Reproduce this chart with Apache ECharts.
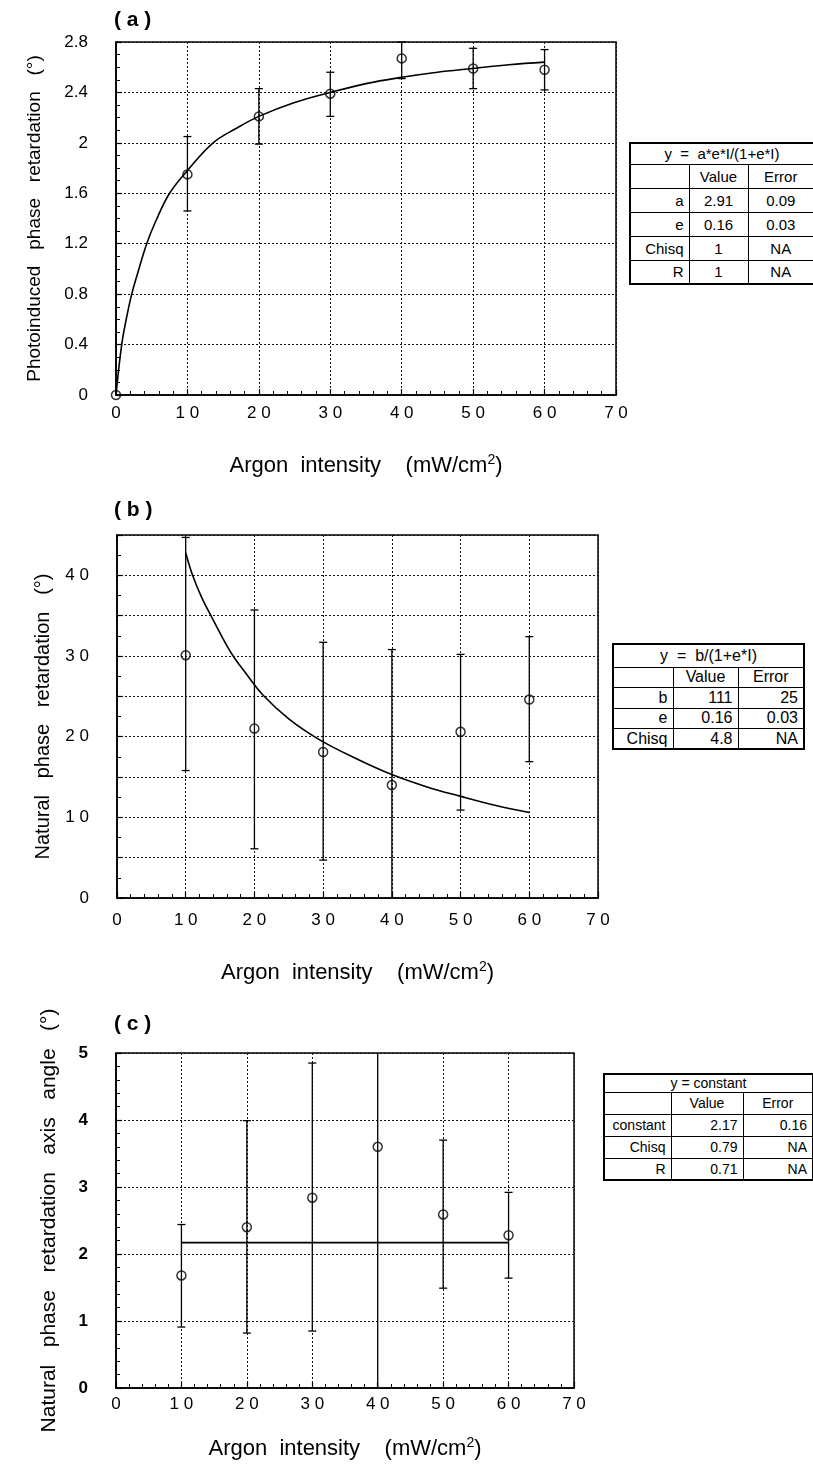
<!DOCTYPE html>
<html>
<head>
<meta charset="utf-8">
<script src="https://cdn.jsdelivr.net/npm/echarts@6/dist/echarts.min.js"></script>
<style>
  html, body { margin: 0; padding: 0; background: #fff; }
  #wrap { position: relative; width: 813px; height: 1465px; }
  #chart { position: absolute; left: 0; top: 0; width: 813px; height: 1465px; }
  table.fit {
    position: absolute; border-collapse: collapse; table-layout: fixed;
    border: 2.5px solid #000; font-family: "Liberation Sans", Arial, sans-serif;
    color: #000; background: #fff;
  }
  table.fit td { border: 1px solid #000; padding: 0 5px; white-space: pre; overflow: hidden; line-height: 1; }
  table.fit td.lab { text-align: right; }
  table.fit td.head { text-align: center; }
</style>
</head>
<body>
<div id="wrap">
  <div id="chart"></div>
</div>
<script>
// (a) photoinduced phase retardation
var aX = [0, 10, 20, 30, 40, 50, 60];
var aY = [0, 1.75, 2.21, 2.39, 2.67, 2.59, 2.58];
var aLo = [null, 1.46, 1.99, 2.21, 2.51, 2.43, 2.42];
var aHi = [null, 2.05, 2.43, 2.56, 2.80, 2.75, 2.74];
var aFitX = [0, 0.8, 1.5, 2.2, 3, 4.3, 5.5, 7.5, 10, 13.6, 17, 20, 25, 30, 35, 40, 45, 50, 55, 60];
var aFitY = [0, 0.4, 0.62, 0.8, 0.96, 1.2, 1.37, 1.6, 1.78, 2.0, 2.12, 2.21, 2.32, 2.4, 2.47, 2.52, 2.56, 2.59, 2.62, 2.64];

// (b) natural phase retardation
var bX = [10, 20, 30, 40, 50, 60];
var bY = [30.1, 21.0, 18.1, 14.0, 20.6, 24.6];
var bLo = [15.8, 6.1, 4.7, -2.0, 10.9, 16.9];
var bHi = [44.7, 35.7, 31.7, 30.8, 30.2, 32.4];
var bFitX = [10, 11, 12.3, 13.8, 16.6, 18.8, 21.2, 25, 29.5, 35, 40, 45, 50, 55, 60];
var bFitY = [42.8, 40, 37.3, 34.8, 30.4, 27.8, 25.2, 22.2, 19.6, 17.2, 15.3, 13.8, 12.6, 11.5, 10.6];

// (c) natural phase retardation axis angle
var cX = [10, 20, 30, 40, 50, 60];
var cY = [1.68, 2.40, 2.84, 3.60, 2.59, 2.28];
var cLo = [0.91, 0.82, 0.85, -0.8, 1.49, 1.64];
var cHi = [2.44, 3.99, 4.85, 6.0, 3.7, 2.92];
var cFitX = [10, 60];
var cFitY = [2.17, 2.17];

// fit tables
var fitAHead = 'y  =  a*e*I/(1+e*I)';
var fitARows = [['', 'Value', 'Error'], ['a', '2.91', '0.09'], ['e', '0.16', '0.03'], ['Chisq', '1', 'NA'], ['R', '1', 'NA']];
var fitBHead = 'y  =  b/(1+e*I)';
var fitBRows = [['', 'Value', 'Error'], ['b', '111', '25'], ['e', '0.16', '0.03'], ['Chisq', '4.8', 'NA']];
var fitCHead = 'y = constant';
var fitCRows = [['', 'Value', 'Error'], ['constant', '2.17', '0.16'], ['Chisq', '0.79', 'NA'], ['R', '0.71', 'NA']];

var FONT = '"Liberation Sans", Arial, Helvetica, sans-serif';

function pairs(xs, ys) {
  return xs.map(function (x, i) { return [x, ys[i]]; });
}
function bars(xs, lo, hi) {
  var out = [];
  xs.forEach(function (x, i) { if (lo[i] != null) out.push([x, lo[i], hi[i]]); });
  return out;
}
// digits of the x labels are set a little apart, as in the scan
function spaced(v) { return String(v).split('').join(' '); }

function errorBar(yMin, yMax) {
  return function (params, api) {
    var x = api.value(0), lo = api.value(1), hi = api.value(2);
    var top = api.coord([x, Math.min(hi, yMax)]);
    var bot = api.coord([x, Math.max(lo, yMin)]);
    var st = { stroke: '#000', lineWidth: 1.3 };
    var w = 4;
    var kids = [{ type: 'line', shape: { x1: top[0], y1: top[1], x2: bot[0], y2: bot[1] }, style: st }];
    if (hi <= yMax) kids.push({ type: 'line', shape: { x1: top[0] - w, y1: top[1], x2: top[0] + w, y2: top[1] }, style: st });
    if (lo >= yMin) kids.push({ type: 'line', shape: { x1: bot[0] - w, y1: bot[1], x2: bot[0] + w, y2: bot[1] }, style: st });
    return { type: 'group', children: kids };
  };
}

var dotted = { color: '#111', width: 1, type: [2, 2] };

function xAxis(gi, labelMargin, nameGap) {
  return {
    type: 'value', gridIndex: gi, min: 0, max: 70, interval: 10,
    axisLine: { show: true, onZero: false, lineStyle: { color: '#000', width: 1.6 } },
    axisTick: { show: true, inside: true, length: 6, lineStyle: { color: '#000', width: 1.2 } },
    minorTick: { show: true, splitNumber: 5, length: 4, lineStyle: { color: '#000', width: 1 } },
    splitLine: { show: true, lineStyle: dotted },
    axisLabel: { color: '#000', fontSize: 17, fontFamily: FONT, margin: labelMargin, formatter: spaced },
    name: 'Argon  intensity    (mW/cm{sup|2})', nameLocation: 'middle', nameGap: nameGap,
    nameTextStyle: {
      color: '#000', fontSize: 22, fontFamily: FONT,
      rich: { sup: { fontSize: 14, fontFamily: FONT, color: '#000', verticalAlign: 'top', padding: [0, 0, 12, 0] } }
    }
  };
}

function yAxis(gi, max, interval, minor, labelEvery, name, nameSize, nameGap, bold) {
  return {
    type: 'value', gridIndex: gi, min: 0, max: max, interval: interval,
    axisLine: { show: true, onZero: false, lineStyle: { color: '#000', width: 1.6 } },
    axisTick: { show: true, inside: true, length: 6, lineStyle: { color: '#000', width: 1.2 } },
    minorTick: { show: true, splitNumber: minor, length: 4, lineStyle: { color: '#000', width: 1 } },
    splitLine: { show: true, lineStyle: dotted },
    axisLabel: {
      color: '#000', fontSize: 17, fontFamily: FONT, margin: 28, fontWeight: bold ? 'bold' : 'normal',
      formatter: function (v) {
        var r = Math.round(v * 100) / 100;
        if (Math.abs(r / labelEvery - Math.round(r / labelEvery)) > 1e-6) return '';
        return r >= 10 ? spaced(r) : String(r);
      }
    },
    name: name, nameLocation: 'middle', nameGap: nameGap,
    nameTextStyle: { color: '#000', fontSize: nameSize, fontFamily: FONT }
  };
}

function panelSeries(gi, fitX, fitY, xs, ys, lo, hi, yMax) {
  return [
    {
      type: 'line', xAxisIndex: gi, yAxisIndex: gi, data: pairs(fitX, fitY),
      showSymbol: false, smooth: 0.4,
      lineStyle: { color: '#000', width: 1.6 }, z: 3, silent: true
    },
    {
      type: 'custom', xAxisIndex: gi, yAxisIndex: gi, data: bars(xs, lo, hi),
      renderItem: errorBar(0, yMax), z: 4, silent: true
    },
    {
      type: 'scatter', xAxisIndex: gi, yAxisIndex: gi, data: pairs(xs, ys),
      symbol: 'circle', symbolSize: 9,
      itemStyle: { color: 'rgba(255,255,255,0)', borderColor: '#000', borderWidth: 1.5 }, z: 5, silent: true
    }
  ];
}

var gridBase = { show: true, borderColor: '#000', borderWidth: 1.5, backgroundColor: 'transparent' };
var titleStyle = { fontSize: 21, fontWeight: 'bold', fontFamily: FONT, color: '#000' };

var chart = echarts.init(document.getElementById('chart'), null, { renderer: 'canvas' });
chart.setOption({
  animation: false,
  backgroundColor: '#fff',
  title: [
    { text: '( a )', left: 114, top: 10, padding: 0, textStyle: titleStyle },
    { text: '( b )', left: 114, top: 500, padding: 0, textStyle: titleStyle },
    { text: '( c )', left: 114, top: 1014, padding: 0, textStyle: titleStyle }
  ],
  grid: [
    Object.assign({ left: 116, top: 42, width: 500, height: 353 }, gridBase),
    Object.assign({ left: 117, top: 535, width: 481, height: 363 }, gridBase),
    Object.assign({ left: 116, top: 1053, width: 458, height: 335 }, gridBase)
  ],
  xAxis: [xAxis(0, 10, 58), xAxis(1, 14, 62), xAxis(2, 8, 48)],
  yAxis: [
    yAxis(0, 2.8, 0.4, 4, 0.4, 'Photoinduced   phase   retardation   (°)', 19, 72, false),
    yAxis(1, 45, 5, 2, 10, 'Natural   phase   retardation   (°)', 20, 64, false),
    yAxis(2, 5, 1, 5, 1, 'Natural   phase   retardation   axis   angle   (°)', 21, 56, true)
  ],
  series: []
    .concat(panelSeries(0, aFitX, aFitY, aX, aY, aLo, aHi, 2.8))
    .concat(panelSeries(1, bFitX, bFitY, bX, bY, bLo, bHi, 45))
    .concat(panelSeries(2, cFitX, cFitY, cX, cY, cLo, cHi, 5))
});

// fit parameter tables
function makeTable(head, rows, box, cols, headH, rowH, fontSize, valueAlign) {
  var t = document.createElement('table');
  t.className = 'fit';
  t.style.left = box[0] + 'px';
  t.style.top = box[1] + 'px';
  t.style.width = box[2] + 'px';
  t.style.fontSize = fontSize + 'px';
  var cg = document.createElement('colgroup');
  cols.forEach(function (w) { var c = document.createElement('col'); c.style.width = w + 'px'; cg.appendChild(c); });
  t.appendChild(cg);
  var tr = document.createElement('tr');
  tr.style.height = headH + 'px';
  var td = document.createElement('td');
  td.colSpan = 3; td.className = 'head'; td.textContent = head;
  tr.appendChild(td); t.appendChild(tr);
  rows.forEach(function (r, ri) {
    var row = document.createElement('tr');
    row.style.height = rowH + 'px';
    r.forEach(function (v, ci) {
      var cell = document.createElement('td');
      cell.textContent = v;
      if (ci === 0) cell.className = 'lab';
      else cell.style.textAlign = ri === 0 ? 'center' : valueAlign;
      row.appendChild(cell);
    });
    t.appendChild(row);
  });
  document.getElementById('wrap').appendChild(t);
}
makeTable(fitAHead, fitARows, [629, 142, 184], [59, 59, 66], 21, 24, 15, 'center');
makeTable(fitBHead, fitBRows, [612, 643, 191], [60, 65, 66], 23, 20.5, 16, 'right');
makeTable(fitCHead, fitCRows, [603, 1073, 209], [67, 72, 70], 18, 22, 14, 'right');

window.addEventListener('resize', function () { chart.resize(); });
</script>
</body>
</html>
